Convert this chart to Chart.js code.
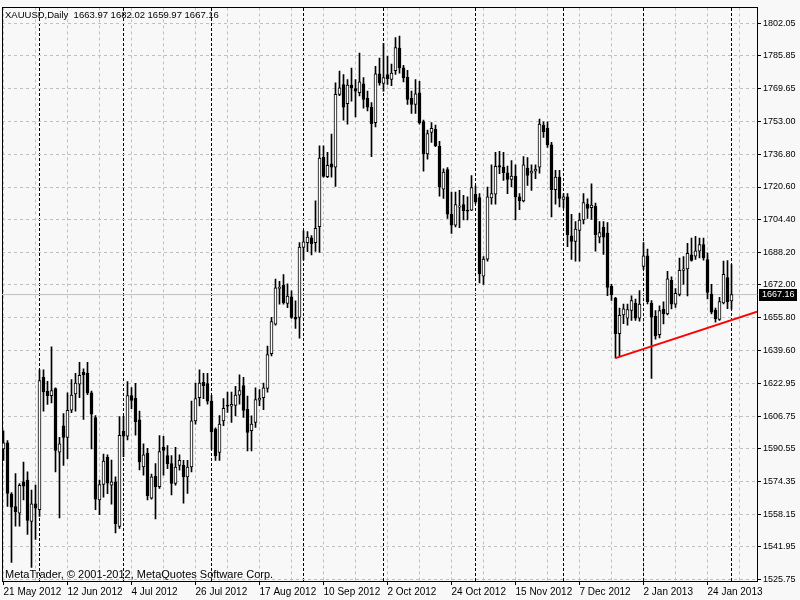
<!DOCTYPE html>
<html>
<head>
<meta charset="utf-8">
<title>XAUUSD,Daily</title>
<script src="https://cdn.jsdelivr.net/npm/chart.js@4.4.1/dist/chart.umd.min.js"></script>
<style>
    html, body { margin: 0; padding: 0; background: #f8f8f8; }
    #wrap { width: 800px; height: 600px; }
</style>
</head>
<body>
<div id="wrap"><canvas id="chart" width="800" height="600"></canvas></div>
<script>
// Daily XAUUSD bars, 21 May 2012 .. 1 Feb 2013 (one entry per bar)
const opens = [
    1590.5, 1593.5, 1568.1, 1561.9, 1558.6, 1574.2, 1575.0, 1554.5, 1563.2, 1560.3,
    1626.0, 1619.2, 1617.0, 1620.5, 1588.9, 1602.0, 1596.2, 1609.7, 1617.8, 1622.7,
    1628.6, 1628.1, 1618.3, 1606.0, 1565.2, 1572.8, 1586.3, 1572.5, 1574.2, 1552.0,
    1599.2, 1596.8, 1617.0, 1615.6, 1604.9, 1581.5, 1588.4, 1566.0, 1576.9, 1571.7,
    1591.3, 1587.2, 1583.2, 1573.3, 1582.3, 1582.3, 1576.6, 1581.5, 1604.4, 1615.9,
    1623.6, 1622.9, 1614.2, 1600.3, 1588.8, 1604.4, 1612.3, 1611.7, 1612.1, 1617.2,
    1621.9, 1610.1, 1599.5, 1603.6, 1614.7, 1615.9, 1620.5, 1637.8, 1652.5, 1670.2,
    1671.8, 1662.8, 1666.1, 1655.8, 1655.8, 1690.6, 1693.0, 1695.4, 1693.0, 1700.9,
    1735.4, 1725.7, 1732.1, 1730.5, 1766.6, 1771.5, 1762.0, 1771.2, 1769.5, 1767.4,
    1771.8, 1764.6, 1760.3, 1752.6, 1776.8, 1772.0, 1776.4, 1774.0, 1778.4, 1789.6,
    1779.8, 1775.1, 1764.6, 1761.6, 1767.4, 1753.1, 1737.0, 1747.7, 1749.3, 1740.8,
    1719.5, 1729.3, 1707.0, 1701.7, 1710.6, 1711.9, 1709.1, 1709.1, 1717.0, 1715.3,
    1676.3, 1684.8, 1715.2, 1717.0, 1731.3, 1730.5, 1727.7, 1724.4, 1726.0, 1715.7,
    1713.7, 1730.0, 1727.5, 1728.5, 1730.5, 1751.3, 1749.8, 1741.5, 1719.3, 1725.5,
    1714.4, 1715.7, 1696.4, 1693.6, 1699.0, 1704.2, 1712.1, 1710.3, 1711.1, 1695.7,
    1700.6, 1697.7, 1671.2, 1665.3, 1647.8, 1657.1, 1655.5, 1659.3, 1663.0, 1655.5,
    1681.2, 1686.4, 1662.9, 1656.4, 1647.2, 1660.0, 1657.5, 1674.3, 1662.4, 1667.3,
    1679.2, 1679.9, 1686.9, 1686.3, 1688.7, 1692.0, 1684.6, 1667.4, 1659.3, 1654.8,
    1663.0, 1675.6, 1663.97
];
const highs = [
    1599.5, 1594.6, 1568.8, 1578.3, 1573.3, 1584.0, 1579.1, 1570.1, 1572.5, 1629.8,
    1629.8, 1624.1, 1641.2, 1620.8, 1596.2, 1608.0, 1618.3, 1624.9, 1628.1, 1633.5,
    1630.3, 1633.5, 1619.2, 1607.0, 1575.0, 1587.9, 1587.5, 1585.0, 1576.6, 1606.5,
    1606.7, 1624.0, 1621.0, 1623.1, 1609.3, 1593.0, 1590.8, 1578.0, 1583.2, 1597.1,
    1596.7, 1592.2, 1587.2, 1591.3, 1587.6, 1584.8, 1584.8, 1614.2, 1623.2, 1629.8,
    1628.1, 1628.1, 1617.0, 1601.0, 1607.0, 1615.5, 1618.7, 1618.7, 1621.6, 1627.3,
    1626.0, 1616.7, 1606.9, 1620.8, 1620.0, 1623.2, 1641.6, 1655.8, 1674.9, 1673.8,
    1677.1, 1672.5, 1669.0, 1664.0, 1693.0, 1698.8, 1698.4, 1696.5, 1713.7, 1741.1,
    1741.0, 1737.8, 1746.9, 1772.3, 1778.2, 1776.4, 1774.0, 1779.7, 1774.0, 1787.1,
    1775.0, 1768.2, 1762.5, 1780.5, 1784.6, 1792.0, 1785.5, 1781.7, 1794.8, 1795.6,
    1781.0, 1778.5, 1768.2, 1774.0, 1773.1, 1753.8, 1748.9, 1752.6, 1751.4, 1743.3,
    1729.6, 1730.2, 1718.1, 1718.1, 1719.0, 1716.5, 1715.7, 1726.3, 1721.0, 1717.3,
    1686.1, 1720.6, 1731.6, 1737.8, 1738.3, 1737.8, 1731.0, 1733.7, 1731.6, 1717.3,
    1735.7, 1735.2, 1731.6, 1731.6, 1754.3, 1753.0, 1753.0, 1742.8, 1728.9, 1728.9,
    1717.3, 1717.3, 1707.0, 1703.4, 1707.5, 1717.3, 1714.7, 1722.2, 1712.6, 1703.4,
    1703.4, 1702.9, 1672.3, 1665.8, 1660.4, 1662.5, 1662.5, 1666.6, 1664.9, 1669.1,
    1693.0, 1689.8, 1664.2, 1659.2, 1661.6, 1663.6, 1678.7, 1676.0, 1670.1, 1685.3,
    1686.1, 1692.6, 1695.2, 1696.1, 1695.2, 1695.2, 1687.9, 1672.3, 1660.4, 1665.8,
    1683.8, 1684.0, 1682.02
];
const lows = [
    1584.8, 1561.9, 1534.1, 1552.1, 1552.1, 1565.2, 1548.0, 1531.6, 1545.5, 1557.0,
    1609.3, 1612.6, 1613.4, 1579.1, 1556.2, 1582.3, 1585.6, 1608.5, 1609.3, 1615.9,
    1605.2, 1617.5, 1590.5, 1560.3, 1557.8, 1566.5, 1568.2, 1563.0, 1548.8, 1551.0,
    1586.7, 1595.0, 1610.5, 1597.3, 1580.0, 1577.4, 1565.2, 1565.5, 1555.7, 1570.9,
    1577.4, 1580.7, 1567.6, 1572.5, 1579.9, 1563.5, 1568.4, 1579.1, 1602.8, 1611.8,
    1615.5, 1612.7, 1590.2, 1584.8, 1584.8, 1602.0, 1608.6, 1603.6, 1606.9, 1612.7,
    1606.1, 1589.5, 1589.5, 1601.2, 1612.0, 1610.0, 1618.7, 1636.7, 1652.0, 1662.4,
    1662.4, 1660.7, 1655.3, 1650.4, 1645.5, 1684.4, 1688.5, 1686.9, 1688.6, 1688.1,
    1725.5, 1725.2, 1725.5, 1720.9, 1766.0, 1753.8, 1751.8, 1763.3, 1755.4, 1765.8,
    1759.7, 1758.4, 1735.7, 1750.5, 1771.2, 1768.2, 1771.5, 1771.0, 1776.5, 1777.2,
    1772.8, 1761.6, 1757.1, 1757.1, 1751.8, 1728.5, 1734.4, 1742.8, 1740.6, 1716.0,
    1714.9, 1705.0, 1697.6, 1700.8, 1700.4, 1704.2, 1704.2, 1708.8, 1712.5, 1673.0,
    1672.2, 1683.7, 1712.1, 1712.1, 1727.2, 1723.9, 1717.3, 1720.6, 1704.2, 1709.4,
    1713.2, 1721.4, 1718.9, 1724.7, 1727.5, 1745.2, 1740.3, 1705.8, 1712.1, 1710.7,
    1710.2, 1691.0, 1684.6, 1683.8, 1683.7, 1702.3, 1705.0, 1704.5, 1688.7, 1692.8,
    1687.1, 1666.6, 1664.2, 1635.6, 1636.3, 1652.7, 1652.0, 1654.3, 1654.3, 1653.9,
    1679.7, 1662.5, 1625.5, 1645.0, 1645.6, 1652.6, 1657.0, 1660.0, 1660.8, 1666.5,
    1672.2, 1666.5, 1683.8, 1684.6, 1685.4, 1684.3, 1665.0, 1657.6, 1653.5, 1654.3,
    1662.5, 1660.1, 1659.97
];
const closes = [
    1593.5, 1568.4, 1561.6, 1559.3, 1572.4, 1572.0, 1555.0, 1563.2, 1561.1, 1624.4,
    1618.8, 1617.0, 1619.5, 1589.7, 1593.0, 1596.2, 1609.7, 1617.2, 1623.2, 1627.0,
    1627.3, 1618.3, 1607.7, 1565.5, 1572.8, 1584.5, 1573.5, 1574.2, 1553.4, 1597.2,
    1596.8, 1617.0, 1614.6, 1604.0, 1584.0, 1587.6, 1567.3, 1576.6, 1571.7, 1589.2,
    1589.7, 1583.2, 1573.3, 1581.5, 1584.8, 1576.6, 1581.5, 1604.4, 1615.5, 1623.2,
    1621.9, 1614.2, 1599.0, 1587.2, 1602.8, 1610.6, 1611.7, 1612.6, 1617.2, 1619.5,
    1609.6, 1598.7, 1602.8, 1615.0, 1615.7, 1620.8, 1637.4, 1653.7, 1670.5, 1670.8,
    1663.2, 1666.4, 1655.8, 1655.0, 1690.7, 1693.4, 1695.7, 1692.4, 1700.1, 1735.0,
    1725.9, 1731.4, 1730.5, 1766.6, 1769.9, 1760.3, 1771.2, 1769.9, 1768.2, 1772.8,
    1764.1, 1760.3, 1752.1, 1776.8, 1772.3, 1775.0, 1774.4, 1777.2, 1789.9, 1779.8,
    1774.8, 1764.1, 1761.6, 1766.9, 1752.6, 1737.0, 1747.2, 1749.7, 1741.1, 1720.6,
    1728.0, 1707.1, 1701.7, 1711.9, 1711.1, 1708.8, 1708.6, 1720.3, 1713.2, 1677.6,
    1684.8, 1715.7, 1717.3, 1730.9, 1730.5, 1727.7, 1724.4, 1726.0, 1715.7, 1713.7,
    1731.6, 1726.3, 1728.5, 1729.5, 1751.8, 1748.0, 1741.5, 1719.3, 1725.5, 1714.9,
    1715.7, 1696.8, 1693.6, 1699.7, 1704.2, 1712.9, 1710.0, 1711.6, 1696.9, 1698.0,
    1695.7, 1670.7, 1667.0, 1647.8, 1656.8, 1660.1, 1659.7, 1664.2, 1655.5, 1662.5,
    1686.4, 1663.6, 1655.9, 1646.6, 1659.2, 1657.5, 1675.0, 1662.4, 1667.8, 1679.2,
    1679.9, 1687.7, 1684.1, 1688.9, 1692.0, 1685.4, 1668.2, 1658.4, 1655.2, 1663.7,
    1677.2, 1663.7, 1667.16
];

// date labels shown every 16 bars
const xLabels = [
    '21 May 2012', '12 Jun 2012', '4 Jul 2012', '26 Jul 2012', '17 Aug 2012', '10 Sep 2012',
    '2 Oct 2012', '24 Oct 2012', '15 Nov 2012', '7 Dec 2012', '2 Jan 2013', '24 Jan 2013'
];
// bar index of the first bar of each month (period separators)
const monthStarts = [9, 30, 52, 75, 95, 118, 140, 160, 182];
const yTicks = [
    1525.75, 1541.95, 1558.15, 1574.35, 1590.55, 1606.75, 1622.95, 1639.60, 1655.80,
    1672.00, 1688.20, 1704.40, 1720.60, 1736.80, 1753.00, 1769.65, 1785.85, 1802.05
];
// red trend line: [bar, price] at both ends
const trendLine = [[153, 1635.6], [188.4, 1658.7]];

const symbolName = 'XAUUSD,Daily';
const copyright = 'MetaTrader, \u00a9 2001-2012, MetaQuotes Software Corp.';

const last = closes.length - 1;
const lastClose = closes[last];

const xMin = -0.375;
const xMax = 188.375;
const yMin = 1524.88;
const yMax = 1809.82;

const gridBars = [];
for (let v = 0; v <= xMax; v += 8) gridBars.push(v);

const FAMILY = '"Liberation Sans", Arial, sans-serif';
Chart.defaults.font.family = FAMILY;
Chart.defaults.font.size = 9;
Chart.defaults.color = '#000';

const mtOverlay = {
    id: 'mtOverlay',
    beforeDraw(chart) {
        const ctx = chart.ctx;
        ctx.save();
        ctx.fillStyle = '#f8f8f8';
        ctx.fillRect(0, 0, chart.width, chart.height);
        ctx.restore();
    },
    afterDraw(chart) {
        const { ctx, chartArea: a, scales } = chart;
        const header = symbolName + '  ' + [opens[last], highs[last], lows[last], closes[last]]
            .map(v => v.toFixed(2)).join(' ');
        ctx.save();
        ctx.textBaseline = 'middle';
        ctx.fillStyle = '#000';
        ctx.font = '9.5px ' + FAMILY;
        ctx.fillText(header, a.left + 3, a.top + 8);
        ctx.font = '11px ' + FAMILY;
        ctx.fillText(copyright, a.left + 3, a.bottom - 6);

        // last price tag on the price axis
        ctx.font = '9px ' + FAMILY;
        const py = Math.round(scales.y.getPixelForValue(lastClose));
        ctx.fillRect(a.right + 2, py - 6, chart.width - a.right - 5, 12);
        ctx.fillStyle = '#fff';
        ctx.fillText(lastClose.toFixed(2), a.right + 5, py);
        ctx.restore();
    }
};

new Chart(document.getElementById('chart'), {
    type: 'bar',
    data: {
        datasets: [
            {
                type: 'line',
                label: 'trend',
                data: trendLine.map(([x, y]) => ({ x, y })),
                borderColor: '#ff0000',
                borderWidth: 2,
                pointRadius: 0,
                order: 0
            },
            {
                label: 'body',
                data: opens.map((o, i) => ({ x: i, y: [o, closes[i]] })),
                backgroundColor: opens.map((o, i) => (closes[i] >= o ? '#ffffff' : '#000000')),
                borderColor: '#000',
                borderWidth: 1,
                borderSkipped: false,
                barThickness: 3,
                minBarLength: 1,
                grouped: false,
                order: 1
            },
            {
                label: 'wick',
                data: lows.map((l, i) => ({ x: i, y: [l, highs[i]] })),
                backgroundColor: '#000',
                borderWidth: 0,
                barThickness: 1,
                grouped: false,
                order: 2
            },
            {
                type: 'line',
                label: 'last',
                data: [{ x: xMin, y: lastClose }, { x: xMax, y: lastClose }],
                borderColor: '#c0c0c0',
                borderWidth: 1,
                pointRadius: 0,
                order: 3
            }
        ]
    },
    options: {
        responsive: false,
        animation: false,
        layout: { padding: 0 },
        plugins: {
            legend: { display: false },
            tooltip: { enabled: false }
        },
        scales: {
            x: {
                type: 'linear',
                position: 'bottom',
                min: xMin,
                max: xMax,
                offset: false,
                afterBuildTicks: (s) => { s.ticks = gridBars.map(v => ({ value: v })); },
                afterFit: (s) => { s.height = 19; },
                ticks: {
                    autoSkip: false,
                    maxRotation: 0,
                    align: 'start',
                    padding: 1,
                    font: { size: 10 },
                    callback: (v) => (v % 16 === 0 ? xLabels[v / 16] : '')
                },
                grid: {
                    offset: false,
                    color: '#c0c0c0',
                    tickLength: 4,
                    tickColor: (c) => (c.tick && c.tick.value % 16 === 0 ? '#000' : 'rgba(0,0,0,0)')
                },
                border: { color: '#000', dash: [3, 3] }
            },
            xm: {
                type: 'linear',
                position: 'top',
                min: xMin,
                max: xMax,
                offset: false,
                afterBuildTicks: (s) => { s.ticks = monthStarts.map(v => ({ value: v })); },
                afterFit: (s) => { s.height = 2; },
                ticks: { display: false },
                grid: { offset: false, color: '#000', drawTicks: false },
                border: { color: '#000', dash: [3, 2] }
            },
            y: {
                type: 'linear',
                position: 'right',
                min: yMin,
                max: yMax,
                afterBuildTicks: (s) => { s.ticks = yTicks.map(v => ({ value: v })); },
                afterFit: (s) => { s.width = 43; },
                ticks: { padding: 2, callback: (v) => v.toFixed(2) },
                grid: { color: '#c0c0c0', tickLength: 4, tickColor: '#000' },
                border: { color: '#000', dash: [3, 3] }
            },
            yl: {
                type: 'linear',
                position: 'left',
                ticks: { display: false },
                grid: { display: false },
                afterFit: (s) => { s.width = 2; },
                border: { color: '#000' }
            }
        }
    },
    plugins: [mtOverlay]
});
</script>
</body>
</html>
